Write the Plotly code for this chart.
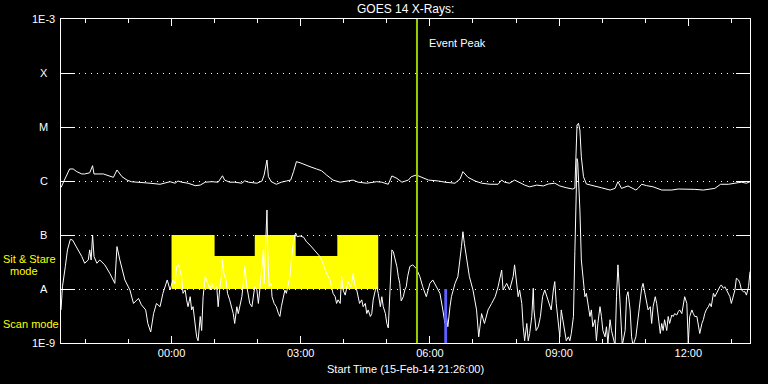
import math
import pandas as pd
import plotly.graph_objects as go

START = pd.Timestamp("2014-02-15 21:26:00")
END = pd.Timestamp("2014-02-16 13:26:00")

# Long channel (upper curve): minutes since start, flux (W/m^2)
long_min = [0, 12, 17, 22, 29, 33, 40, 44, 46, 59, 73, 78, 85, 92, 98, 115, 124, 138, 147, 152,
            159, 163, 168, 177, 187, 194, 201, 210, 219, 225, 228, 235, 242, 252, 256, 261, 273, 280,
            283, 287, 289, 293, 300, 307, 314, 320, 324, 328, 333, 340, 347, 356, 363, 370, 379, 389,
            398, 407, 414, 426, 440, 447, 456, 461, 468, 475, 484, 488, 495, 502, 512, 526, 535, 549,
            556, 560, 567, 577, 586, 598, 609, 614, 618, 625, 632, 641, 646, 653, 663, 672, 679, 688,
            695, 704, 713, 716, 717, 719, 721, 723, 725, 728, 732, 741, 753, 765, 772, 776, 781, 790,
            801, 804, 809, 816, 825, 837, 851, 860, 869, 883, 895, 911, 919, 930, 939, 948, 955, 960]
long_flux = [7.6e-7, 1.67e-6, 1.67e-6, 1.49e-6, 1.35e-6, 1.35e-6, 1.42e-6, 1.92e-6, 1.35e-6, 1.35e-6,
             1.17e-6, 1.6e-6, 1.2e-6, 1.04e-6, 9.7e-7, 9.5e-7, 9.1e-7, 8.7e-7, 9.5e-7, 9.7e-7,
             9.1e-7, 1.0e-6, 9.5e-7, 9.1e-7, 8.2e-7, 8.4e-7, 9.5e-7, 9.7e-7, 9.5e-7, 1.25e-6, 1.04e-6,
             9.5e-7, 9.5e-7, 9.1e-7, 1.01e-6, 9.5e-7, 9.1e-7, 1.0e-6, 1.29e-6, 2.45e-6, 1.2e-6, 9.7e-7,
             8.7e-7, 9.5e-7, 1.0e-6, 1.04e-6, 1.49e-6, 2.28e-6, 2.18e-6, 1.98e-6, 1.84e-6, 1.67e-6,
             1.55e-6, 1.29e-6, 1.04e-6, 9.5e-7, 1.0e-6, 1.04e-6, 9.5e-7, 9.1e-7, 9.7e-7, 9.5e-7, 8.7e-7,
             1.24e-6, 1.12e-6, 9.5e-7, 1.04e-6, 1.2e-6, 1.29e-6, 1.17e-6, 1.04e-6, 1.0e-6, 9.5e-7, 9.1e-7,
             1.09e-6, 1.49e-6, 1.17e-6, 1.0e-6, 9.1e-7, 8.7e-7, 8.7e-7, 1.04e-6, 9.5e-7, 9.1e-7, 1.04e-6,
             9.1e-7, 8.4e-7, 7.8e-7, 8.4e-7, 8.1e-7, 8.8e-7, 9.1e-7, 8.1e-7, 7.5e-7, 7.1e-7, 7.4e-7,
             2.8e-6, 1.09e-5, 1.17e-5, 8.8e-6, 2.8e-6, 1.2e-6, 8.8e-7, 8.1e-7, 7.5e-7, 6.8e-7, 7.3e-7,
             9.7e-7, 7.3e-7, 8.1e-7, 6.8e-7, 7.3e-7, 8.7e-7, 8.2e-7, 7.8e-7, 6.8e-7, 6.8e-7, 7.1e-7,
             7.1e-7, 7.0e-7, 6.8e-7, 7.3e-7, 8.7e-7, 8.7e-7, 9.1e-7, 9.5e-7, 9.1e-7, 9.7e-7]

# Short channel (lower curve)
short_min = [0, 2, 6, 9, 13, 16, 20, 24, 29, 33, 38, 40, 42, 44, 46, 50, 54, 61, 68, 75, 78, 82, 89, 96,
             101, 108, 112, 118, 121, 125, 129, 133, 138, 142, 148, 152, 156,
             159, 161, 164, 168, 170, 173, 175, 177, 180, 182, 184, 187, 189, 191, 194, 196, 198, 201,
             203, 205, 208, 210, 212, 214, 217, 219, 221, 224, 225, 227, 230, 232, 235, 238, 240, 242,
             245, 247, 249, 252, 254, 256, 259, 261, 263, 266, 268, 270, 273, 275, 277, 280, 282, 283,
             285, 287, 288, 290, 293, 294, 297, 300, 303, 305, 307, 310, 312, 314, 317, 319,
             321, 323, 326, 327, 329, 333, 338, 342, 347, 352, 356, 361, 365, 370, 375, 377, 379, 382,
             384, 386, 389, 391, 393, 396, 398, 400, 403, 405, 407, 409, 412, 414, 416, 419, 421, 424,
             426, 428, 431, 433, 435, 438, 440, 442, 445, 447, 449, 452, 454, 456, 458, 460, 461, 463,
             465, 468, 470, 472, 474, 477, 479,
             481, 483, 486, 490, 495, 500, 504, 509, 514, 518, 523, 528, 532, 535, 537, 539, 542, 544,
             549, 553, 558, 560, 562, 565, 569, 574, 579, 582, 586, 590, 595, 600, 605, 609, 614, 616,
             621, 625, 630, 632, 637, 639,
             642, 644, 646, 649, 651, 653, 656, 658, 659, 662, 665, 668, 671, 674, 677, 680, 683, 686,
             688, 690, 693, 695, 697, 700, 702, 704, 707, 709, 711, 714, 716, 718, 719, 720, 723, 725,
             728, 730, 732, 734, 737, 739, 741, 744, 746, 748, 751, 753, 755, 758, 760, 762, 765, 767,
             769, 772, 774, 776, 778, 780, 782, 786, 788, 790, 793, 795, 797,
             801, 804, 807, 809, 811, 814, 816, 818, 821, 823, 825, 828, 830, 832, 835, 837, 839, 841,
             844, 846, 848, 851, 853, 855, 858, 860, 862, 865, 867, 869, 872, 874, 876, 879, 881, 883,
             886, 888, 890, 893, 895, 897, 899, 902, 904, 906, 909, 911, 913, 916, 918, 920, 923, 925,
             927, 930, 932, 934, 937, 939, 941, 944, 946, 948, 951, 953, 955, 958, 960]
short_flux = [4.1e-9, 1.1e-8, 2.6e-8, 5.3e-8, 8.3e-8, 8.1e-8, 6.5e-8, 5.3e-8, 4.0e-8, 3.0e-8, 3.45e-8,
              5.3e-8, 3.45e-8, 1.0e-7, 4.0e-8, 3.0e-8, 3.45e-8, 2.8e-8, 1.95e-8, 1.27e-8, 6.1e-8,
              3.45e-8, 1.47e-8, 9.6e-9, 5.4e-9, 6.7e-9, 5.1e-9, 4.1e-9, 2.3e-9, 1.6e-9, 3.5e-9, 5.4e-9,
              4.7e-9, 8.3e-9, 1.47e-8, 9.6e-9, 1.47e-8,
              1.27e-8, 2.6e-8, 2.8e-8, 1.7e-8, 8.3e-9, 9.6e-9, 6.3e-9, 4.7e-9, 7.2e-9, 4.1e-9, 4.7e-9,
              2.3e-9, 1.3e-9, 1.1e-9, 3.1e-9, 1.7e-9, 7.2e-9, 1.7e-8, 1.47e-8, 1.27e-8, 9.6e-9, 1.27e-8,
              1.1e-8, 9.6e-9, 1.1e-8, 4.7e-9, 9.6e-9, 1.95e-8, 3.45e-8, 1.95e-8, 1.47e-8, 8.3e-9, 6.3e-9,
              4.7e-9, 3.5e-9, 2.3e-9, 4.7e-9, 3.5e-9, 4.7e-9, 7.2e-9, 1.27e-8, 2.6e-8, 1.1e-8, 7.2e-9,
              5.4e-9, 4.7e-9, 7.2e-9, 1.1e-8, 9.6e-9, 5.4e-9, 9.6e-9, 2.6e-8, 5.3e-8, 1.27e-8, 9.3e-8,
              2.9e-7, 5.3e-8, 1.1e-8, 1.27e-8, 7.2e-9, 5.4e-9, 4.7e-9, 3.5e-9, 3.1e-9, 4.7e-9, 7.2e-9,
              9.6e-9, 8.3e-9, 1.27e-8, 1.7e-8,
              3.45e-8, 6.1e-8, 1.0e-7, 1.09e-7, 9.3e-8, 9.6e-8, 9.1e-8, 7.5e-8, 6.5e-8, 5.4e-8, 4.6e-8,
              3.96e-8, 3.0e-8, 1.95e-8, 1.47e-8, 1.1e-8, 8.3e-9, 7.2e-9, 5.4e-9, 6.3e-9, 5.4e-9, 1.7e-8,
              9.6e-9, 7.7e-9, 1.1e-8, 1.37e-8, 1.1e-8, 1.27e-8, 1.95e-8, 1.27e-8, 9.6e-9, 7.2e-9, 5.4e-9,
              6.3e-9, 4.7e-9, 5.4e-9, 3.5e-9, 4.1e-9, 3.1e-9, 3.5e-9, 6.3e-9, 9.6e-9, 1.1e-8, 8.3e-9,
              4.7e-9, 7.2e-9, 4.7e-9, 3.5e-9, 2.3e-9, 1.9e-9, 6.3e-9, 2.6e-8, 5.3e-8, 4.9e-8, 3.96e-8,
              2.6e-8, 1.7e-8, 1.27e-8, 6.0e-9, 7.2e-9, 9.6e-9,
              1.1e-8, 1.7e-8, 2.6e-8, 2.8e-8, 2.4e-8, 1.7e-8, 1.1e-8, 7.2e-9, 1.27e-8, 1.47e-8, 1.1e-8,
              8.3e-9, 4.1e-9, 2.3e-9, 3.1e-9, 2.0e-9, 4.7e-9, 7.2e-9, 1.27e-8, 1.7e-8, 6.1e-8, 1.15e-7,
              7.0e-8, 3.45e-8, 1.7e-8, 9.6e-9, 4.1e-9, 1.3e-9, 3.5e-9, 2.3e-9, 4.1e-9, 5.4e-9, 7.2e-9,
              1.1e-8, 2.25e-8, 9.6e-9, 1.27e-8, 9.6e-9, 1.7e-8, 2.8e-8, 7.2e-9, 9.6e-9,
              5.4e-9, 2.0e-9, 1.1e-9, 2.3e-9, 1.1e-9, 1.5e-9, 3.1e-9, 1.03e-8, 4.1e-9, 1.7e-9, 2.0e-9,
              3.1e-9, 7.2e-9, 9.6e-9, 7.2e-9, 5.4e-9, 4.1e-9, 9.6e-9, 1.37e-8, 5.4e-9, 2.3e-9, 1.3e-9,
              4.1e-9, 2.3e-9, 1.7e-9, 1.1e-9, 1.3e-9, 1.1e-9, 1.5e-9, 3.1e-9, 5.0e-8, 5.0e-7, 2.6e-6,
              2.2e-6, 2.9e-7, 3.45e-8, 1.1e-8, 7.2e-9, 8.3e-9, 5.4e-9, 3.1e-9, 4.1e-9, 2.0e-9, 2.7e-9,
              1.1e-9, 2.3e-9, 4.7e-9, 3.1e-9, 1.7e-9, 1.3e-9, 2.0e-9, 1.0e-9, 2.7e-9, 1.7e-9, 1.3e-9,
              9.0e-10, 7.2e-9, 2.8e-8, 9.6e-9, 3.1e-9, 9.0e-10, 1.7e-9, 7.2e-9, 8.9e-9, 4.1e-9, 1.3e-9,
              9.0e-10,
              1.3e-9, 3.1e-9, 7.2e-9, 1.03e-8, 1.27e-8, 7.2e-9, 5.4e-9, 4.1e-9, 4.7e-9, 2.3e-9, 4.7e-9,
              7.2e-9, 5.4e-9, 3.1e-9, 1.5e-9, 2.3e-9, 1.7e-9, 2.7e-9, 1.7e-9, 3.1e-9, 2.3e-9, 3.3e-9,
              3.1e-9, 3.5e-9, 3.3e-9, 3.8e-9, 4.1e-9, 3.5e-9, 4.7e-9, 7.2e-9, 5.4e-9, 1.0e-9, 3.1e-9,
              4.1e-9, 3.5e-9, 3.1e-9, 3.1e-9, 2.3e-9, 1.5e-9, 2.3e-9, 2.7e-9, 3.5e-9, 4.1e-9, 4.7e-9,
              5.4e-9, 4.7e-9, 8.3e-9, 7.2e-9, 8.3e-9, 9.6e-9, 1.1e-8, 1.19e-8, 1.03e-8, 1.1e-8, 9.6e-9,
              8.3e-9, 7.2e-9, 5.4e-9, 7.2e-9, 9.6e-9, 1.58e-8, 1.47e-8, 1.27e-8, 9.6e-9, 8.9e-9, 8.9e-9,
              7.7e-9, 1.1e-8, 2.1e-8]

# Sit & Stare mode blocks (time edges and levels)
mode_edges = ["2014-02-16 00:00", "2014-02-16 01:00", "2014-02-16 01:56", "2014-02-16 02:53",
              "2014-02-16 03:51", "2014-02-16 04:48"]
mode_levels = [1e-7, 4.1e-8, 1e-7, 4.1e-8, 1e-7]
mode_base = 1e-8

event_peak = "2014-02-16 05:42"
scan_start, scan_end = "2014-02-16 06:20", "2014-02-16 06:24"

y_tickvals = [1e-9, 1e-8, 1e-7, 1e-6, 1e-5, 1e-4, 1e-3]
y_ticktext = ["1E-9", "A", "B", "C", "M", "X", "1E-3"]

FONT = "Liberation Sans"

long_t = [START + pd.Timedelta(minutes=m) for m in long_min]
short_t = [START + pd.Timedelta(minutes=m) for m in short_min]

# build step outline for mode blocks
ex = [pd.Timestamp(e) for e in mode_edges]
bx = [ex[0]]
by = [mode_base]
for i, lv in enumerate(mode_levels):
    bx += [ex[i], ex[i + 1]]
    by += [lv, lv]
bx.append(ex[-1])
by.append(mode_base)

fig = go.Figure()
fig.add_trace(go.Scatter(x=bx, y=by, mode="lines", fill="toself", fillcolor="#ffff00",
                         line=dict(color="#ffff00", width=0), hoverinfo="skip"))
fig.add_trace(go.Scatter(x=long_t, y=long_flux, mode="lines", line=dict(color="white", width=1)))
fig.add_trace(go.Scatter(x=short_t, y=short_flux, mode="lines", line=dict(color="white", width=1)))

# event peak line
fig.add_shape(type="line", xref="x", yref="paper", x0=event_peak, x1=event_peak, y0=0, y1=1,
              line=dict(color="#99cc00", width=2), layer="above")
# scan mode bar
fig.add_shape(type="rect", xref="x", yref="paper", x0=scan_start, x1=scan_end, y0=0, y1=1 / 6,
              fillcolor="#6060ff", line=dict(width=0), layer="above")

fig.update_layout(
    width=768, height=384,
    margin=dict(l=61, r=18, t=19, b=41),
    paper_bgcolor="black", plot_bgcolor="black",
    showlegend=False,
    font=dict(family=FONT, color="white", size=11),
)
fig.update_xaxes(
    type="date", range=[START, END],
    tickformat="%H:%M", tick0="2014-02-16 00:00", dtick=3 * 3600 * 1000,
    ticks="inside", ticklen=7, tickcolor="white", tickwidth=1,
    minor=dict(dtick=3600 * 1000, ticks="inside", ticklen=4, tickcolor="white", showgrid=False),
    showline=True, linecolor="white", linewidth=1, mirror="ticks",
    showgrid=False, zeroline=False,
    tickfont=dict(family=FONT, size=11, color="white"),
)
fig.update_yaxes(
    type="log", range=[-9, -3],
    tickvals=y_tickvals, ticktext=[""] * len(y_tickvals),
    ticks="inside", ticklen=14, tickcolor="white", tickwidth=1,
    showline=True, linecolor="white", linewidth=1, mirror="ticks",
    showgrid=True, gridcolor="white", gridwidth=1, griddash="1px,5px",
    zeroline=False,
)

# y labels centered (as in the original)
for v, t in zip(y_tickvals, y_ticktext):
    fig.add_annotation(x=-0.025, xref="paper", y=math.log10(v), yref="y",
                       text=t, showarrow=False, xanchor="center", yanchor="middle",
                       font=dict(family=FONT, size=11, color="white"))

fig.add_annotation(x=0.5, xref="paper", y=1, yref="paper", yshift=10, text="GOES 14 X-Rays:",
                   showarrow=False, xanchor="center", yanchor="middle",
                   font=dict(family=FONT, size=12, color="white"))
fig.add_annotation(x=0.5, xref="paper", y=0, yref="paper", yshift=-26,
                   text="Start Time (15-Feb-14 21:26:00)", showarrow=False,
                   xanchor="center", yanchor="middle", font=dict(family=FONT, size=11, color="white"))
fig.add_annotation(x=event_peak, xref="x", y=1, yref="paper", xshift=10, yshift=-24,
                   text="Event Peak", showarrow=False, xanchor="left", yanchor="middle",
                   font=dict(family=FONT, size=11, color="white"))
fig.add_annotation(x=0, xref="paper", xshift=-60, y=-7.4, yref="y", yshift=-2,
                   text="Sit & Stare", showarrow=False, xanchor="left", yanchor="middle",
                   font=dict(family=FONT, size=11, color="#ffff00"))
fig.add_annotation(x=0, xref="paper", xshift=-53, y=-7.4, yref="y", yshift=-14,
                   text="mode", showarrow=False, xanchor="left", yanchor="middle",
                   font=dict(family=FONT, size=11, color="#ffff00"))
fig.add_annotation(x=0, xref="paper", xshift=-60, y=-8.65, yref="y",
                   text="Scan mode", showarrow=False, xanchor="left", yanchor="middle",
                   font=dict(family=FONT, size=11, color="#ffff00"))

fig.write_html("out.html", post_script="document.body.style.margin='0px';",
               config={"displayModeBar": False})
